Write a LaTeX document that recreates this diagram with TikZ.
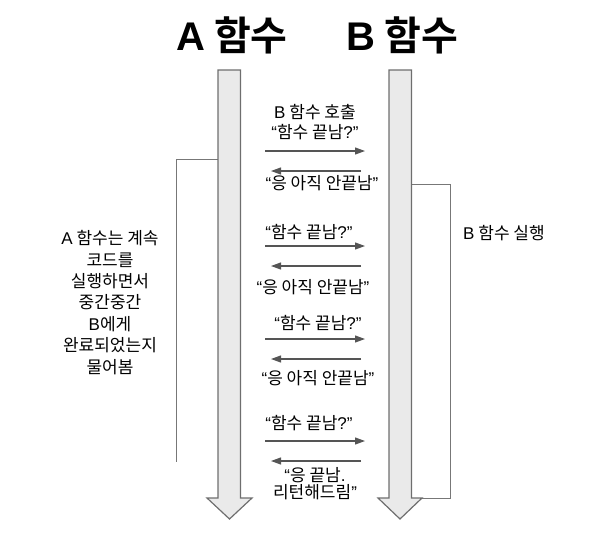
\documentclass[tikz,border=0pt]{standalone}
\usepackage{fontspec}
\setmainfont{Noto Sans CJK KR}[BoldFont={* Bold}]
\newfontfamily\lat{Liberation Sans}
\newcommand{\myopenq}{{\lat “}}
\newcommand{\mycloseq}{{\lat ”}}
\usetikzlibrary{arrows.meta}
\definecolor{shaftgray}{HTML}{EAEAEA}
\definecolor{edgegray}{HTML}{6E6E6E}
\definecolor{msggray}{HTML}{555555}
\definecolor{brgray}{HTML}{777777}
\begin{document}
\begin{tikzpicture}[x=1pt,y=-1pt,
  bigarrow/.style={draw=edgegray, fill=shaftgray, line width=1.2pt, line join=miter},
  msg/.style={draw=msggray, line width=1.1pt, -{Triangle[length=10pt,width=7pt]}},
  bracket/.style={draw=brgray, line width=1pt},
  lbl/.style={font=\fontsize{17}{19}\selectfont, inner sep=0pt, align=center},
  ttl/.style={font=\fontsize{40}{42}\selectfont\bfseries, inner sep=0pt}]
\useasboundingbox (0,0) rectangle (590,558);
% brackets
\draw[bracket] (218,159) -- (176,159) -- (176,462);
\draw[bracket] (411.5,184) -- (450.5,184) -- (450.5,498) -- (411.5,498);
% big arrows
\draw[bigarrow] (218,70) -- (240.5,70) -- (240.5,498) -- (252,498) -- (229.5,519) -- (207,498) -- (218,498) -- cycle;
\draw[bigarrow] (389,70) -- (411.5,70) -- (411.5,498) -- (422,498) -- (400,519) -- (378,498) -- (389,498) -- cycle;
% titles
\node[ttl] (ta) at (232,35) {{\lat\bfseries A} 함수};
\node[ttl] (tb) at (402.5,35) {{\lat\bfseries B} 함수};
% side labels
\node[lbl, font=\fontsize{17}{21.4}\selectfont] (la) at (110,302.5) {{\lat A} 함수는 계속\\코드를\\실행하면서\\중간중간\\{\lat B}에게\\완료되었는지\\물어봄};
\node[lbl] (lb) at (504,233) {{\lat B} 함수 실행};
% message coordinates
\coordinate (r1s) at (265,151); \coordinate (r1e) at (365,151);
\coordinate (l1s) at (361,171); \coordinate (l1e) at (271,171);
\coordinate (r2s) at (265,246); \coordinate (r2e) at (365,246);
\coordinate (l2s) at (361,266); \coordinate (l2e) at (271,266);
\coordinate (r3s) at (265,339); \coordinate (r3e) at (365,339);
\coordinate (l3s) at (361,359); \coordinate (l3e) at (271,359);
\coordinate (r4s) at (265,441); \coordinate (r4e) at (365,441);
\coordinate (l4s) at (361,461); \coordinate (l4e) at (271,461);
\draw[msg] (r1s) -- (r1e); \draw[msg] (l1s) -- (l1e);
\draw[msg] (r2s) -- (r2e); \draw[msg] (l2s) -- (l2e);
\draw[msg] (r3s) -- (r3e); \draw[msg] (l3s) -- (l3e);
\draw[msg] (r4s) -- (r4e); \draw[msg] (l4s) -- (l4e);
% message labels
\node[lbl] (m1a) at (315,112) {{\lat B} 함수 호출};
\node[lbl] (m1b) at (315,132) {\myopenq 함수 끝남{\lat ?}\mycloseq};
\node[lbl] (m1c) at (322,183) {\myopenq 응 아직 안끝남\mycloseq};
\node[lbl] (m2a) at (309,232) {\myopenq 함수 끝남{\lat ?}\mycloseq};
\node[lbl] (m2b) at (313,287) {\myopenq 응 아직 안끝남\mycloseq};
\node[lbl] (m3a) at (318,323) {\myopenq 함수 끝남{\lat ?}\mycloseq};
\node[lbl] (m3b) at (318,378) {\myopenq 응 아직 안끝남\mycloseq};
\node[lbl] (m4a) at (309,423) {\myopenq 함수 끝남{\lat ?}\mycloseq};
\node[lbl, font=\fontsize{17}{17.5}\selectfont] (m4b) at (315,483.5) {\myopenq 응 끝남{\lat .}\\리턴해드림\mycloseq};
\end{tikzpicture}
\end{document}
